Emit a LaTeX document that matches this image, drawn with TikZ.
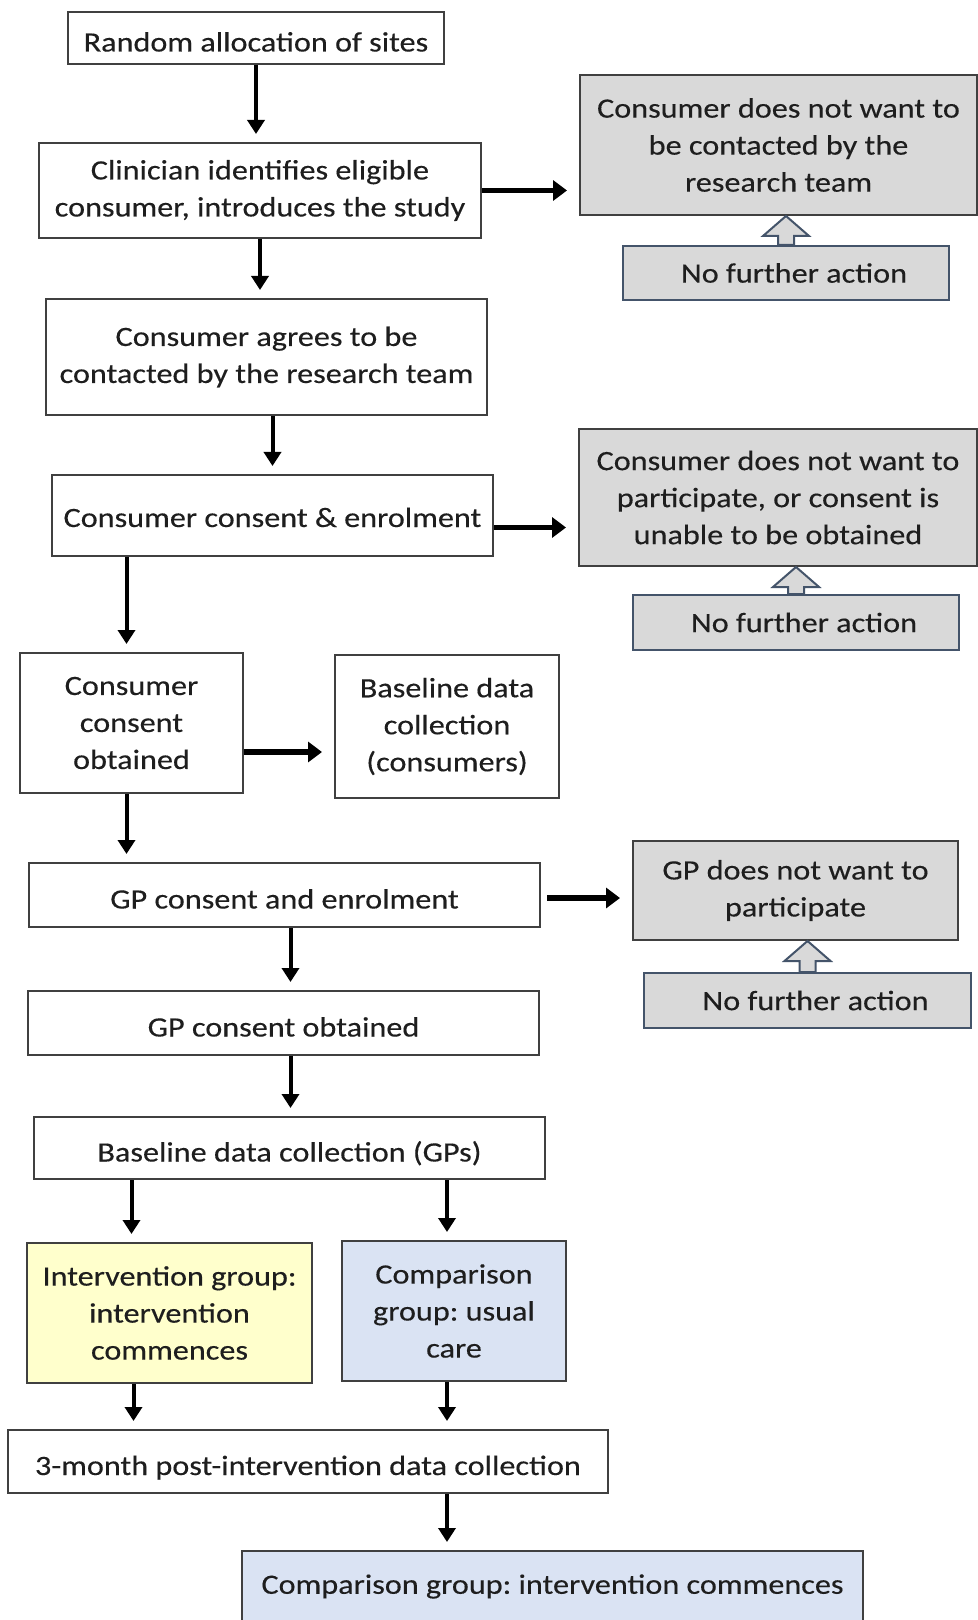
\documentclass[tikz,border=0pt]{standalone}
\usepackage{fontspec}
\setmainfont[FakeStretch=1.15,FakeBold=0.3]{Carlito}
\usepackage{tikz}
\usetikzlibrary{arrows.meta,calc}
\definecolor{boxline}{HTML}{404040}
\definecolor{greyfill}{HTML}{D9D9D9}
\definecolor{nfaline}{HTML}{44546A}
\definecolor{yellowfill}{HTML}{FFFFCC}
\definecolor{bluefill}{HTML}{DAE3F3}
\definecolor{textcol}{HTML}{1E1E1E}
\frenchspacing

%% hollow block arrow from a "no further action" box up to its grey box
\newcommand{\hollowup}[2]{%
\draw[hollow] ($(#1.north)+(-4pt,0)$) -- ($(#1.north |- #2.south)+(-4pt,-10pt)$)
  -- ($(#1.north |- #2.south)+(-11.5pt,-10pt)$) -- (#1.north |- #2.south)
  -- ($(#1.north |- #2.south)+(11.5pt,-10pt)$) -- ($(#1.north |- #2.south)+(4pt,-10pt)$)
  -- ($(#1.north)+(4pt,0)$) -- cycle;}

\begin{document}
\begin{tikzpicture}[x=0.5pt,y=-0.5pt,
  box/.style={draw=boxline,line width=1pt,fill=white,inner sep=0pt,align=center,
    text=textcol,font=\fontsize{14pt}{18.5pt}\selectfont},
  oneline/.style={text height=13.5pt,text depth=0pt},
  greybox/.style={box,fill=greyfill},
  nfabox/.style={box,draw=nfaline,fill=greyfill},
  arr/.style={line width=2pt,-{Triangle[length=7pt,width=8.5pt]},shorten >=4pt},
  sidearr/.style={line width=2.6pt,-{Triangle[length=7pt,width=10pt]},shorten >=6pt},
  hollow/.style={draw=nfaline,fill=greyfill,line width=1pt,line join=miter}]
%%Location
\useasboundingbox (0,0) rectangle (978,1620);
\fill[white] (0,0) rectangle (978,1620);

%%Main column
\node[box,oneline,minimum width=188pt,minimum height=26pt] (rand) at (256,38) {Random allocation of sites};
\node[box,minimum width=221pt,minimum height=47.5pt] (clin) at (260,190.5) {Clinician identifies eligible\\consumer, introduces the study};
\node[box,minimum width=220.5pt,minimum height=58pt] (agree) at (266.5,357) {Consumer agrees to be\\contacted by the research team};
\node[box,oneline,text height=11.5pt,minimum width=220.5pt,minimum height=40.5pt] (enrol) at (272.5,515.5) {Consumer consent \& enrolment};
\node[box,minimum width=111.5pt,minimum height=70pt] (cobt) at (131.5,723) {Consumer\\consent\\obtained};
\node[box,minimum width=112pt,minimum height=71.5pt] (basec) at (447,726.5) {Baseline data\\collection\\(consumers)};
\node[box,oneline,minimum width=255.5pt,minimum height=32pt] (gpen) at (284.5,895) {GP consent and enrolment};
\node[box,oneline,minimum width=255.5pt,minimum height=32pt] (gpobt) at (283.5,1023) {GP consent obtained};
\node[box,oneline,minimum width=255.5pt,minimum height=31pt] (basegp) at (289.5,1148) {Baseline data collection (GPs)};
\node[box,fill=yellowfill,minimum width=142.5pt,minimum height=70pt] (intv) at (169.5,1313) {Intervention group:\\intervention\\commences};
\node[box,fill=bluefill,minimum width=112pt,minimum height=70pt] (comp) at (454,1311) {Comparison\\group: usual\\care};
\node[box,oneline,minimum width=300pt,minimum height=31.5pt] (post) at (308,1461.5) {3-month post-intervention data collection};
\node[box,fill=bluefill,minimum width=310.5pt,minimum height=35.5pt] (compint) at (552.5,1586.5) {Comparison group: intervention commences};

%%Exits
\node[greybox,minimum width=198.5pt,minimum height=70pt] (nocont) at (778.5,145) {Consumer does not want to\\be contacted by the\\research team};
\node[nfabox,minimum width=163pt,minimum height=27pt] (nfaa) at (786,273) {\hspace{8pt}No further action};
\node[greybox,minimum width=199pt,minimum height=68.5pt] (nopart) at (778,497.5) {Consumer does not want to\\participate, or consent is\\unable to be obtained};
\node[nfabox,minimum width=163pt,minimum height=27.5pt] (nfab) at (796,622.5) {\hspace{8pt}No further action};
\node[greybox,minimum width=162.5pt,minimum height=49.5pt] (gpno) at (795.5,890.5) {GP does not want to\\participate};
\node[nfabox,minimum width=163.5pt,minimum height=27.5pt] (nfac) at (807.5,1000.5) {\hspace{8pt}No further action};

%%Arrows
\draw[arr] (rand.south) -- (rand.south |- clin.north);
\draw[arr] (clin.south) -- (clin.south |- agree.north);
\draw[arr] (enrol.north |- agree.south) -- (enrol.north);
\draw[arr] ($(cobt.north |- enrol.south)+(-2.5pt,0)$) -- ($(cobt.north)+(-2.5pt,0)$);
\draw[arr] ($(cobt.south)+(-2.5pt,0)$) -- ($(cobt.south |- gpen.north)+(-2.5pt,0)$);
\draw[arr] ($(gpen.south)+(3pt,0)$) -- ($(gpen.south |- gpobt.north)+(3pt,0)$);
\draw[arr] ($(gpobt.south)+(3.5pt,0)$) -- ($(gpobt.south |- basegp.north)+(3.5pt,0)$);
\draw[arr] ($(intv.north |- basegp.south)+(-19pt,0)$) -- ($(intv.north)+(-19pt,0)$);
\draw[arr] ($(comp.north |- basegp.south)+(-3.5pt,0)$) -- ($(comp.north)+(-3.5pt,0)$);
\draw[arr] ($(intv.south)+(-18pt,0)$) -- ($(intv.south |- post.north)+(-18pt,0)$);
\draw[arr] ($(comp.south)+(-3.5pt,0)$) -- ($(comp.south |- post.north)+(-3.5pt,0)$);
\draw[arr] ($(comp.south |- post.south)+(-3.5pt,0)$) -- ($(comp.south |- compint.north)+(-3.5pt,0)$);

\draw[sidearr] (clin.east) -- (clin.east -| nocont.west);
\draw[sidearr] ($(enrol.east)+(0,-6pt)$) -- ($(enrol.east -| nopart.west)+(0,-6pt)$);
\draw[sidearr] ($(cobt.east)+(0,-14.5pt)$) -- ($(cobt.east -| basec.west)+(0,-14.5pt)$);
\draw[sidearr] ($(gpen.east)+(3pt,-1.5pt)$) -- ($(gpen.east -| gpno.west)+(0,-1.5pt)$);

%%No further action
\hollowup{nfaa}{nocont}
\hollowup{nfab}{nopart}
\hollowup{nfac}{gpno}
\end{tikzpicture}
\end{document}
